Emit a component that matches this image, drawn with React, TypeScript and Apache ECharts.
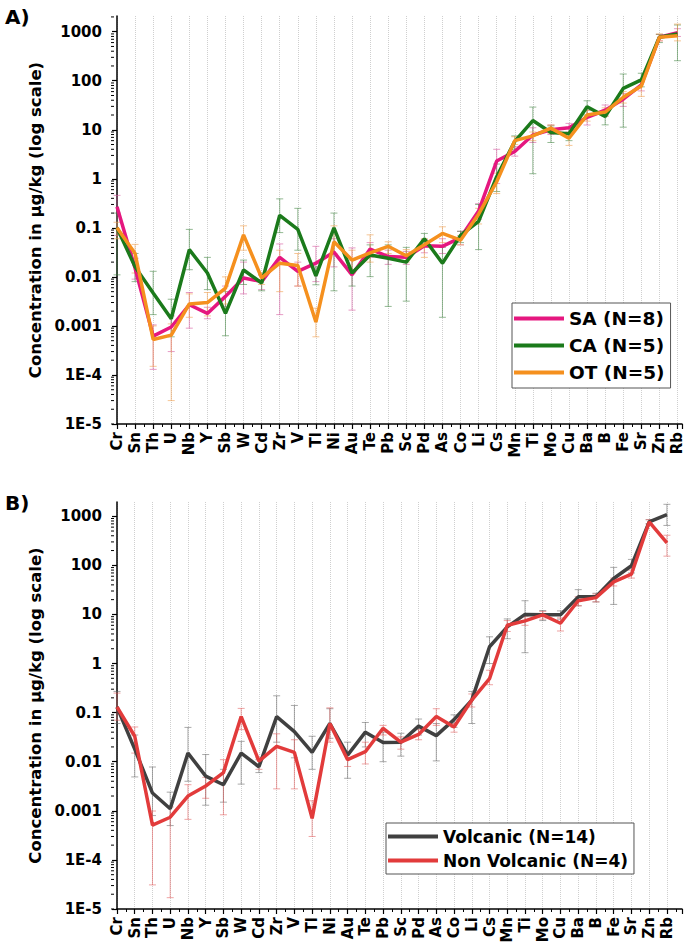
import React, { useEffect, useRef } from 'react';
import * as echarts from 'echarts';

// Elements on the x axis, in plotting order
const elements = [
  'Cr', 'Sn', 'Th', 'U', 'Nb', 'Y', 'Sb', 'W', 'Cd', 'Zr', 'V', 'Tl', 'Ni', 'Au', 'Te', 'Pb',
  'Sc', 'Pd', 'As', 'Co', 'Li', 'Cs', 'Mn', 'Ti', 'Mo', 'Cu', 'Ba', 'B', 'Fe', 'Sr', 'Zn', 'Rb',
];

// Decade tick labels, from 1E-5 up to 1000
const yTickLabels = ['1E-5', '1E-4', '0.001', '0.01', '0.1', '1', '10', '100', '1000'];
// Log minor tick multipliers inside each decade
const minorMultipliers = [2, 3, 4, 5, 6, 7, 8, 9];

// Panel A – SA (N=8)
const saMean = [0.27, 0.015, 0.00062, 0.00095, 0.0027, 0.0018, 0.004, 0.0095, 0.008, 0.025, 0.013, 0.019, 0.032, 0.011, 0.037, 0.026, 0.025, 0.043, 0.042, 0.063, 0.22, 2.3, 3.6, 7.8, 10, 11, 18, 25, 42, 82, 770, 950];
const saLow = [0.07, 0.009, 0.00013, 0.0003, 0.0009, 0.0014, 0.0025, 0.0045, 0.0055, 0.0017, 0.0065, 0.008, 0.016, 0.0021, 0.025, 0.018, 0.018, 0.031, 0.03, 0.045, 0.15, 0.8, 2.9, 5.5, 8, 9, 12.5, 19, 30, 62, 650, 800];
const saHigh = [0.46, 0.024, 0.00105, 0.0016, 0.0048, 0.0024, 0.0065, 0.02, 0.011, 0.047, 0.02, 0.042, 0.06, 0.039, 0.05, 0.035, 0.033, 0.058, 0.06, 0.085, 0.31, 4.0, 4.5, 11, 12.5, 13.5, 25, 32, 55, 105, 880, 1150];

// Panel A – CA (N=5)
const caMean = [0.1, 0.016, 0.0047, 0.0014, 0.036, 0.012, 0.0018, 0.0138, 0.0075, 0.18, 0.093, 0.0105, 0.1, 0.012, 0.028, 0.024, 0.02, 0.06, 0.019, 0.07, 0.135, 1.1, 5.8, 15.4, 8.8, 8.3, 29.5, 18.6, 70, 104, 770, 900];
const caLow = [0.011, 0.008, 0.0017, 0.0006, 0.014, 0.0055, 0.00063, 0.007, 0.0052, 0.08, 0.035, 0.0069, 0.0052, 0.0065, 0.0101, 0.0025, 0.0032, 0.045, 0.0015, 0.05, 0.036, 0.55, 4.0, 1.27, 5.5, 6, 20, 12.6, 11.3, 75, 600, 256];
const caHigh = [0.2, 0.03, 0.013, 0.0035, 0.093, 0.025, 0.005, 0.022, 0.011, 0.39, 0.25, 0.016, 0.2, 0.022, 0.045, 0.045, 0.04, 0.077, 0.04, 0.085, 0.3, 2.0, 7.5, 29, 12, 11, 39, 25, 137, 142, 880, 1370];

// Panel A – OT (N=5)
const otMean = [0.1, 0.03, 0.00053, 0.00065, 0.0028, 0.003, 0.0059, 0.072, 0.0095, 0.019, 0.017, 0.0012, 0.052, 0.022, 0.031, 0.042, 0.027, 0.045, 0.077, 0.056, 0.19, 0.87, 6.0, 7.5, 10.8, 6.7, 20, 23, 46, 78, 770, 830];
const otLow = [0.06, 0.012, 0.00015, 0.00003, 0.0015, 0.0016, 0.0028, 0.035, 0.007, 0.005, 0.0065, 0.0006, 0.03, 0.012, 0.02, 0.03, 0.02, 0.025, 0.05, 0.045, 0.12, 0.5, 5.0, 6, 8.5, 4.8, 15, 19, 35, 48, 650, 650];
const otHigh = [0.13, 0.046, 0.001, 0.0011, 0.0045, 0.0048, 0.01, 0.11, 0.012, 0.035, 0.03, 0.0023, 0.11, 0.035, 0.072, 0.052, 0.036, 0.06, 0.105, 0.07, 0.25, 1.3, 7.2, 9, 12.5, 8, 25, 28, 60, 95, 900, 1430];

// Panel B – Volcanic (N=14)
const volMean = [0.13, 0.018, 0.0023, 0.0011, 0.015, 0.0051, 0.0034, 0.015, 0.0079, 0.083, 0.041, 0.0155, 0.06, 0.0136, 0.04, 0.0245, 0.025, 0.053, 0.034, 0.072, 0.18, 2.2, 5.6, 10, 9.8, 9.8, 22.8, 23, 54, 98, 765, 1080];
const volLow = [0.06, 0.0049, 0.0008, 0.0005, 0.004, 0.0013, 0.0015, 0.0035, 0.006, 0.025, 0.012, 0.007, 0.03, 0.0046, 0.02, 0.01, 0.013, 0.035, 0.0104, 0.05, 0.06, 1.0, 3.2, 1.66, 7.5, 8, 15, 18, 16, 70, 700, 650];
const volHigh = [0.27, 0.035, 0.0078, 0.0024, 0.05, 0.014, 0.007, 0.026, 0.011, 0.22, 0.14, 0.033, 0.12, 0.025, 0.063, 0.04, 0.038, 0.074, 0.06, 0.09, 0.27, 3.5, 8.1, 19, 12, 11.8, 32, 27, 91, 132, 850, 1750];

// Panel B – Non Volcanic (N=4)
const nonMean = [0.13, 0.033, 0.00051, 0.00074, 0.002, 0.0032, 0.006, 0.083, 0.0103, 0.0205, 0.0155, 0.0007, 0.06, 0.011, 0.016, 0.048, 0.025, 0.036, 0.083, 0.051, 0.18, 0.49, 6.0, 7.4, 9.8, 6.6, 19, 22, 46, 66, 765, 287];
const nonLow = [0.07, 0.015, 0.000031, 0.000017, 0.00067, 0.0018, 0.00083, 0.045, 0.007, 0.0028, 0.0028, 0.0003, 0.025, 0.008, 0.009, 0.035, 0.018, 0.028, 0.055, 0.04, 0.13, 0.37, 4.5, 6, 8, 4.6, 15, 18, 38, 55, 700, 154];
const nonHigh = [0.25, 0.051, 0.00099, 0.0012, 0.0034, 0.0048, 0.011, 0.122, 0.012, 0.037, 0.028, 0.0016, 0.125, 0.016, 0.025, 0.055, 0.032, 0.045, 0.12, 0.06, 0.24, 0.73, 7.5, 9, 11.5, 8.5, 23, 26, 55, 80, 850, 410];

const FONT = 'DejaVu Sans';
const AXIS_SHIFT = 3; // y axis line sits this many px left of the first category

function decadeLabel(v: number): string {
  const e = Math.log10(v);
  const r = Math.round(e);
  if (Math.abs(e - r) > 1e-6) return '';
  return yTickLabels[r + 5] ?? '';
}

function lineSeries(name: string, values: number[], color: string, idx: number, z: number) {
  return {
    type: 'line',
    name,
    xAxisIndex: idx,
    yAxisIndex: idx,
    data: values.map((v, i) => [i, v]),
    showSymbol: false,
    symbol: 'none',
    lineStyle: { color, width: 3.5 },
    itemStyle: { color },
    z,
  };
}

function errorSeries(low: number[], high: number[], color: string, idx: number) {
  return {
    type: 'custom',
    xAxisIndex: idx,
    yAxisIndex: idx,
    silent: true,
    z: 1,
    data: low.map((l, i) => [i, l, high[i]]),
    encode: { x: 0, y: [1, 2] },
    renderItem: (_p: any, api: any) => {
      const x = api.value(0);
      const lo = api.coord([x, api.value(1)]);
      const hi = api.coord([x, api.value(2)]);
      const hw = 3.5;
      const st = { stroke: color, lineWidth: 1 };
      return {
        type: 'group',
        children: [
          { type: 'line', shape: { x1: lo[0], y1: lo[1], x2: hi[0], y2: hi[1] }, style: st },
          { type: 'line', shape: { x1: lo[0] - hw, y1: lo[1], x2: lo[0] + hw, y2: lo[1] }, style: st },
          { type: 'line', shape: { x1: hi[0] - hw, y1: hi[1], x2: hi[0] + hw, y2: hi[1] }, style: st },
        ],
      };
    },
  };
}

// Short log-spaced ticks on the left of the y axis, plus the bit of x axis line
// that closes the corner where the shifted y axis meets it
function minorLogTicks(idx: number, top: number) {
  const vals: number[][] = [];
  for (let e = -5; e <= 3; e++) {
    for (const m of minorMultipliers) {
      const v = m * Math.pow(10, e);
      if (v < top) vals.push([0, v]);
    }
  }
  vals.push([0, 1e-5, 1]);
  return {
    type: 'custom',
    xAxisIndex: idx,
    yAxisIndex: idx,
    silent: true,
    clip: false,
    z: 5,
    data: vals,
    renderItem: (_p: any, api: any) => {
      const p = api.coord([0, api.value(1)]);
      const x0 = p[0] - AXIS_SHIFT;
      if (api.value(2) === 1) {
        return {
          type: 'line',
          shape: { x1: x0, y1: p[1], x2: p[0], y2: p[1] },
          style: { stroke: '#000', lineWidth: 1.5 },
        };
      }
      return {
        type: 'line',
        shape: { x1: x0 - 3, y1: p[1], x2: x0, y2: p[1] },
        style: { stroke: '#000', lineWidth: 1 },
      };
    },
  };
}

function xAxisFor(idx: number, max: number) {
  return {
    type: 'value',
    gridIndex: idx,
    min: 0,
    max,
    interval: 1,
    axisLine: { show: true, lineStyle: { color: '#000', width: 1.5 } },
    axisTick: { show: true, length: 5, lineStyle: { color: '#000', width: 1.2 } },
    minorTick: { show: true, splitNumber: 2, length: 3, lineStyle: { color: '#000', width: 1 } },
    splitLine: { show: true, showMaxLine: false, lineStyle: { color: '#cfcfcf', type: 'dotted', width: 1 } },
    axisLabel: {
      rotate: 90,
      margin: 8,
      fontFamily: FONT,
      fontWeight: 'bold',
      fontSize: 15,
      color: '#000',
      formatter: (v: number) => (Number.isInteger(v) && elements[v] !== undefined ? elements[v] : ''),
    },
  };
}

function yAxisFor(idx: number, max: number) {
  return {
    type: 'log',
    gridIndex: idx,
    min: 1e-5,
    max,
    offset: AXIS_SHIFT,
    name: 'Concentration in µg/kg (log scale)',
    nameLocation: 'middle',
    nameGap: 70,
    nameTextStyle: { fontFamily: FONT, fontWeight: 'bold', fontSize: 16.5, color: '#000' },
    axisLine: { show: true, lineStyle: { color: '#000', width: 1.5 } },
    axisTick: { show: true, length: 5, lineStyle: { color: '#000', width: 1.2 } },
    splitLine: { show: false },
    axisLabel: {
      margin: 12,
      showMaxLabel: false,
      fontFamily: FONT,
      fontWeight: 'bold',
      fontSize: 15,
      color: '#000',
      formatter: decadeLabel,
    },
  };
}

function legendFor(names: string[], left: number, top: number, fontSize: number, gap: number, pad: number[]) {
  return {
    show: true,
    orient: 'vertical',
    left,
    top,
    data: names,
    icon: 'rect',
    itemWidth: 50,
    itemHeight: 4,
    itemGap: gap,
    padding: pad,
    borderColor: '#555',
    borderWidth: 1,
    backgroundColor: '#fff',
    textStyle: { fontFamily: FONT, fontWeight: 'bold', fontSize, color: '#000' },
  };
}

export default function App() {
  const ref = useRef<HTMLDivElement>(null);

  useEffect(() => {
    if (!ref.current) return;
    const chart = echarts.init(ref.current, undefined, { renderer: 'svg' });
    const cSA = '#E5177F';
    const cCA = '#1B7A1B';
    const cOT = '#F5901E';
    const cVol = '#404040';
    const cNon = '#E23B3B';

    chart.setOption({
      animation: false,
      backgroundColor: '#fff',
      grid: [
        { left: 117, right: 9, top: 16, bottom: 525 },
        { left: 117, right: 9, top: 502, bottom: 40 },
      ],
      xAxis: [xAxisFor(0, 31.25), xAxisFor(1, 31.85)],
      yAxis: [yAxisFor(0, 2089), yAxisFor(1, 1950)],
      legend: [
        legendFor(['SA (N=8)', 'CA (N=5)', 'OT (N=5)'], 512, 303, 18.5, 8, [6, 6, 6, 2]),
        legendFor(['Volcanic (N=14)', 'Non Volcanic (N=4)'], 386, 823, 17, 7, [5, 6, 5, 2]),
      ],
      graphic: [
        { type: 'text', left: 5, top: 7, style: { text: 'A)', fontFamily: FONT, fontWeight: 'bold', fontSize: 20, fill: '#000' } },
        { type: 'text', left: 5, top: 493, style: { text: 'B)', fontFamily: FONT, fontWeight: 'bold', fontSize: 20, fill: '#000' } },
      ],
      series: [
        errorSeries(saLow, saHigh, 'rgba(215,90,160,0.6)', 0),
        errorSeries(caLow, caHigh, 'rgba(60,130,60,0.55)', 0),
        errorSeries(otLow, otHigh, 'rgba(240,160,80,0.6)', 0),
        lineSeries('SA (N=8)', saMean, cSA, 0, 3),
        lineSeries('CA (N=5)', caMean, cCA, 0, 4),
        lineSeries('OT (N=5)', otMean, cOT, 0, 5),
        minorLogTicks(0, 2089),
        errorSeries(volLow, volHigh, 'rgba(100,100,100,0.55)', 1),
        errorSeries(nonLow, nonHigh, 'rgba(225,90,90,0.55)', 1),
        lineSeries('Volcanic (N=14)', volMean, cVol, 1, 3),
        lineSeries('Non Volcanic (N=4)', nonMean, cNon, 1, 4),
        minorLogTicks(1, 1950),
      ],
    });
    return () => chart.dispose();
  }, []);

  return (
    <div
      ref={ref}
      style={{ position: 'absolute', left: 0, top: 0, width: 691, height: 949, background: '#fff' }}
    />
  );
}
